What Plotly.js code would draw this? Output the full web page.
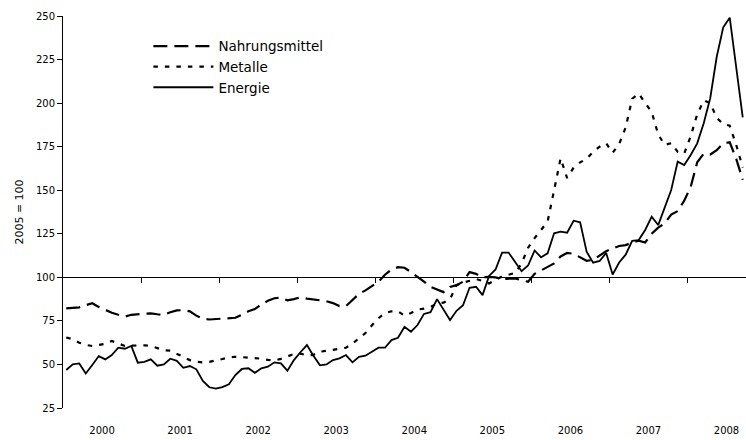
<!DOCTYPE html>
<html><head><meta charset="utf-8">
<script src="https://cdn.plot.ly/plotly-3.0.1.min.js"></script>
<style>html,body{margin:0;padding:0;background:#fff}#chart{width:746px;height:440px}</style>
</head><body><div id="chart"></div>
<script>
const firstYear = 2000;
const yearLabels = ["2000","2001","2002","2003","2004","2005","2006","2007","2008"];
const yTicks = [25, 50, 75, 100, 125, 150, 175, 200, 225, 250];

const nahrungsmittel = [
 82.2, 82.5, 82.8, 84.0, 85.1, 83.0, 81.2, 79.7, 78.5, 77.4, 78.5, 78.9,
 79.2, 79.3, 78.8, 78.4, 80.0, 81.0, 81.2, 80.5, 78.0, 76.3, 75.8, 76.0,
 76.5, 76.5, 76.8, 78.5, 80.5, 81.8, 84.5, 86.5, 88.0, 88.3, 86.8, 87.5,
 88.5, 87.8, 87.2, 86.8, 86.3, 85.2, 83.5, 83.5, 87.0, 90.5, 92.5, 95.0,
 97.5, 101.5, 104.5, 105.8, 105.5, 103.0, 100.5, 97.5, 94.5, 93.0, 91.5, 94.5,
 95.5, 97.5, 103.0, 102.0, 100.0, 100.3, 100.0, 99.0, 99.3, 99.4, 98.3, 97.5,
 102.0, 104.0, 106.0, 108.0, 112.0, 114.0, 113.5, 111.5, 109.5, 110.0, 112.5, 115.0,
 116.6, 118.0, 118.5, 120.0, 121.0, 120.0, 125.0, 128.5, 131.0, 136.0, 138.0, 144.0,
 152.0, 166.0, 171.0, 170.5, 173.0, 177.0, 177.5, 168.0, 156.0
];
const metalle = [
 65.5, 64.5, 62.5, 61.2, 60.6, 61.0, 61.8, 63.5, 62.0, 60.6, 60.8, 61.1,
 61.0, 60.6, 59.5, 58.2, 57.9, 56.0, 54.1, 52.5, 51.5, 51.2, 51.5, 52.5,
 53.1, 54.0, 54.4, 54.2, 54.0, 53.7, 53.3, 52.6, 52.2, 53.2, 54.5, 56.0,
 56.2, 55.2, 55.5, 57.3, 57.8, 58.3, 59.0, 59.6, 62.0, 64.8, 68.0, 72.5,
 76.5, 79.5, 80.5, 80.5, 78.0, 79.5, 81.5, 82.0, 83.0, 85.0, 85.5, 87.5,
 95.5, 97.0, 98.0, 99.0, 98.0, 96.5, 98.5, 100.5, 101.5, 102.5, 108.0, 117.0,
 122.5, 127.5, 132.0, 150.0, 168.3, 157.0, 163.0, 166.0, 168.0, 172.0, 175.0, 177.0,
 171.5, 176.5, 186.0, 202.5, 205.5, 200.0, 195.0, 182.0, 176.0, 177.0, 172.0, 171.0,
 181.0, 193.5, 201.5, 200.0, 191.5, 188.0, 187.0, 176.0, 163.0
];
const energie = [
 46.8, 50.0, 50.6, 44.8, 49.7, 54.8, 52.9, 55.4, 59.6, 59.0, 60.6, 51.0,
 51.5, 52.9, 49.3, 50.0, 53.3, 52.1, 48.1, 49.1, 47.2, 40.5, 36.9, 36.1,
 37.0, 38.6, 43.9, 47.4, 47.8, 45.2, 47.8, 48.7, 51.2, 50.6, 46.4, 52.5,
 57.0, 61.1, 55.0, 49.5, 50.0, 52.5, 53.5, 55.4, 51.2, 54.4, 55.0, 57.3,
 59.6, 59.6, 64.0, 65.3, 71.6, 68.8, 72.6, 79.0, 80.0, 87.5, 81.5, 75.5,
 80.8, 84.0, 94.0, 94.6, 89.8, 100.8, 104.5, 114.2, 114.2, 109.0, 103.5, 106.8,
 115.4, 111.5, 113.8, 125.3, 126.2, 125.6, 132.5, 131.6, 114.7, 108.4, 109.4, 114.0,
 101.6, 108.5, 113.0, 121.0, 121.4, 127.2, 134.8, 130.0, 140.5, 150.1, 166.4, 164.5,
 170.2, 176.9, 188.4, 202.8, 226.6, 243.5, 249.0, 220.0, 191.8
];

// monthly positions (middle of each month, in years)
const months = energie.map((_, i) => firstYear + (i + 0.5) / 12);
const yearMid = yearLabels.map(y => Number(y) + 0.5);
const yearBounds = yearLabels.slice(1).map(y => Number(y));
const xRange = [firstYear, firstYear + 8.75];

const traces = [
  {x: months, y: nahrungsmittel, name: 'Nahrungsmittel', type: 'scatter', mode: 'lines',
   line: {color: '#000', width: 2.2, dash: '14px,7px'}, hoverinfo: 'skip'},
  {x: months, y: metalle, name: 'Metalle', type: 'scatter', mode: 'lines',
   line: {color: '#000', width: 2.2, dash: '4.5px,7px'}, hoverinfo: 'skip'},
  {x: months, y: energie, name: 'Energie', type: 'scatter', mode: 'lines',
   line: {color: '#000', width: 1.8}, hoverinfo: 'skip'},
  {x: [firstYear], y: [null], xaxis: 'x2', type: 'scatter', mode: 'lines',
   showlegend: false, hoverinfo: 'skip'}
];

const layout = {
  width: 746, height: 440,
  margin: {l: 63, r: 0, t: 16, b: 32, pad: 0},
  paper_bgcolor: '#fff', plot_bgcolor: '#fff',
  font: {family: 'DejaVu Sans, sans-serif', size: 10, color: '#000'},
  showlegend: true,
  legend: {x: 0.125, y: 0.962, xanchor: 'left', yanchor: 'top',
           bgcolor: 'rgba(0,0,0,0)', font: {size: 13.5}, itemwidth: 60, traceorder: 'normal'},
  xaxis: {range: xRange, tickvals: yearMid, ticktext: yearLabels, ticks: '',
          showline: false, showgrid: false, zeroline: false, ticklabelstandoff: 15, fixedrange: true},
  xaxis2: {overlaying: 'x', anchor: 'free', position: 1/3, range: xRange,
           tickvals: yearBounds, ticks: 'outside', ticklen: 5, tickcolor: '#000', tickwidth: 1,
           showline: true, linecolor: '#000', linewidth: 1, showticklabels: false,
           showgrid: false, zeroline: false, fixedrange: true},
  yaxis: {range: [25, 250], tickvals: yTicks, ticks: 'outside', ticklen: 5, tickcolor: '#000',
          showline: true, linecolor: '#000', linewidth: 1, showgrid: false, zeroline: false,
          fixedrange: true,
          title: {text: '2005 = 100', font: {size: 11}, standoff: 10}}
};

Plotly.newPlot('chart', traces, layout, {staticPlot: true, displayModeBar: false});
</script>
</body></html>
